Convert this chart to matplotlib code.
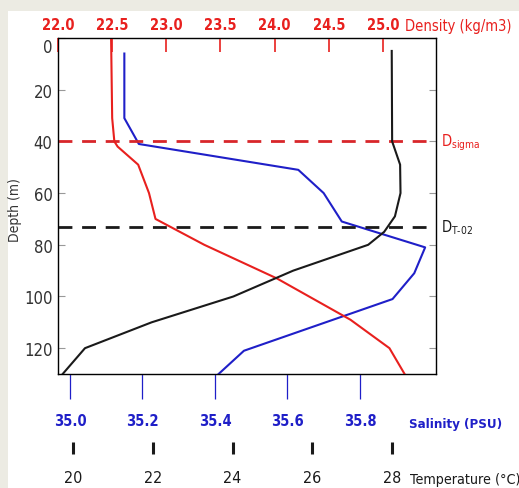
import matplotlib.pyplot as plt
from matplotlib.patches import Rectangle

plt.rcParams['font.family'] = ['DejaVu Sans']
plt.rcParams['font.stretch'] = 'condensed'

# density profile (kg/m3) vs depth (m)
depth_rho = [0, 31, 40, 42, 49, 60, 70, 80, 93, 109, 120, 130]
density = [22.49, 22.50, 22.52, 22.55, 22.74, 22.84, 22.90, 23.35, 24.02, 24.70, 25.06, 25.20]

# salinity profile (PSU)
depth_sal = [6, 31, 41, 51, 60, 71, 81, 91, 101, 121, 130]
salinity = [35.15, 35.15, 35.19, 35.63, 35.70, 35.75, 35.98, 35.95, 35.89, 35.48, 35.41]

# temperature profile (C)
depth_tem = [5, 40, 49, 60, 69, 75, 80, 90, 100, 110, 120, 130]
temperature = [27.99, 28.0, 28.2, 28.21, 28.07, 27.8, 27.4, 25.52, 24.02, 21.97, 20.3, 19.74]

d_sigma = 40
d_t02 = 73

depth_ticks = [0, 20, 40, 60, 80, 100, 120]
rho_ticks = [22.0, 22.5, 23.0, 23.5, 24.0, 24.5, 25.0]
sal_ticks = [35.0, 35.2, 35.4, 35.6, 35.8]
tem_ticks = [20, 22, 24, 26, 28]

red = '#e8201e'
blue = '#1f1fc8'
black = '#1a1a1a'

fig = plt.figure(figsize=(5.19, 4.89), dpi=100, facecolor='#ecebe3')
fig.add_artist(Rectangle((8 / 519, 0), 1, (489 - 12) / 489, transform=fig.transFigure,
                         facecolor='white', edgecolor='none', zorder=-5))

ax = fig.add_axes([0.1118, 0.2331, 0.7283, 0.6871])
ax.set_ylim(130, 0)
ax.set_xlim(34.967, 36.01)
for s in ax.spines.values():
    s.set_color('#333333')
    s.set_linewidth(1.0)

# salinity on bottom axis
ax.plot(salinity, depth_sal, color=blue, lw=1.5)
ax.set_xticks(sal_ticks)
ax.set_xticklabels([f'{v:.1f}' for v in sal_ticks], fontweight='bold')
ax.tick_params(axis='x', direction='out', length=18, width=0.9, color=blue,
               labelcolor=blue, pad=10, labelsize=10.5)
ax.set_yticks(depth_ticks)
ax.tick_params(axis='y', direction='in', left=True, right=True, length=5, width=0.8,
               color='#999999', labelcolor='#333333', labelsize=12, pad=4)
ax.get_yticklabels()[0].set_va('top')
ax.set_ylabel('Depth (m)', fontsize=10, color='#333333')
ax.yaxis.set_label_coords(-0.095, 0.49)

# density on top axis
axd = ax.twiny()
axd.set_xlim(22.0, 25.49)
axd.plot(density, depth_rho, color=red, lw=1.5)
axd.set_xticks(rho_ticks)
axd.set_xticklabels([f'{v:.1f}' for v in rho_ticks], fontweight='bold')
axd.tick_params(axis='x', direction='in', length=10, width=1.2, color=red,
                labelcolor=red, pad=4, labelsize=10.5)

# temperature on a second bottom axis
axt = ax.twiny()
axt.set_xlim(19.624, 29.1)
axt.xaxis.set_ticks_position('bottom')
axt.xaxis.set_label_position('bottom')
axt.spines['bottom'].set_position(('outward', 53))
for s in axt.spines.values():
    s.set_visible(False)
axt.plot(temperature, depth_tem, color=black, lw=1.5)
axt.set_xticks(tem_ticks)
axt.tick_params(axis='x', direction='inout', length=8, width=2.2, color=black,
                labelcolor=black, pad=12, labelsize=11.5)

# reference depths
ax.axhline(d_sigma, color='#d8262a', lw=2, dashes=(5, 3.5))
ax.axhline(d_t02, color=black, lw=2, dashes=(5, 3.5))
ax.text(1.014, d_sigma, r'D$_{\mathregular{sigma}}$', transform=ax.get_yaxis_transform(),
        color=red, fontsize=10.5, va='center', ha='left')
ax.text(1.014, d_t02, r'D$_{\mathregular{T\text{-}02}}$', transform=ax.get_yaxis_transform(),
        color=black, fontsize=10.5, va='center', ha='left')

fig.text(405 / 519, 1 - 27 / 489, 'Density (kg/m3)', color=red, fontsize=10.5, va='center')
fig.text(409 / 519, 1 - 425 / 489, 'Salinity (PSU)', color=blue, fontsize=9.5,
         fontweight='bold', va='center')
fig.text(410 / 519, 1 - 480 / 489, 'Temperature (\u00b0C)', color=black, fontsize=10.3,
         va='center')

fig.savefig('out.png', dpi=100, facecolor=fig.get_facecolor())
